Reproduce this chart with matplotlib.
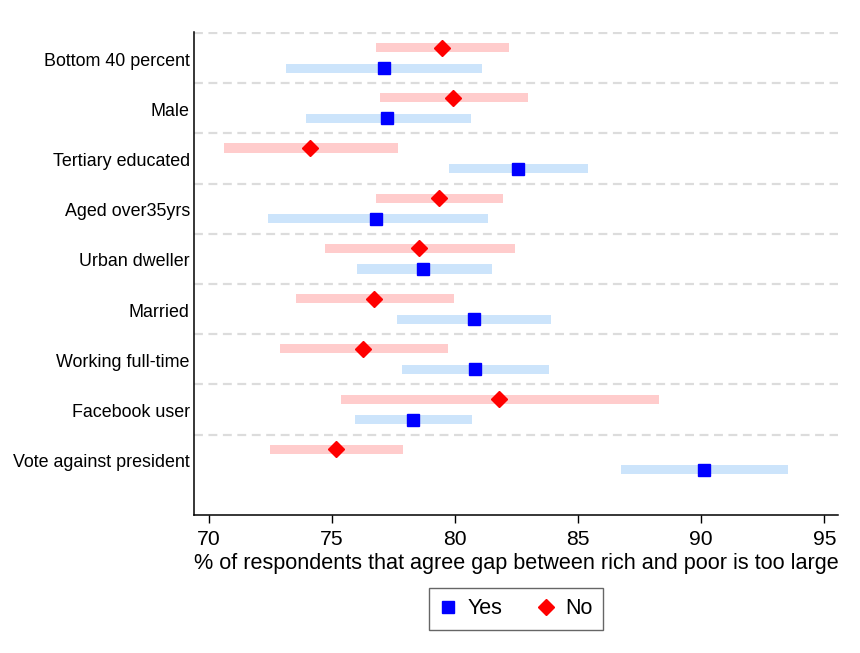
import numpy as np
import matplotlib.pyplot as plt
from matplotlib.lines import Line2D

plt.rcParams["font.family"] = ["Liberation Sans", "DejaVu Sans"]

# Share agreeing the rich-poor gap is too large, by group (point estimate and 95% CI)
groups = [
    "Bottom 40 percent",
    "Male",
    "Tertiary educated",
    "Aged over35yrs",
    "Urban dweller",
    "Married",
    "Working full-time",
    "Facebook user",
    "Vote against president",
]
yes_mean = [77.1, 77.25, 82.55, 76.8, 78.7, 80.75, 80.8, 78.3, 90.1]
yes_lo = [73.15, 73.95, 79.75, 72.4, 76.0, 77.65, 77.85, 75.95, 86.75]
yes_hi = [81.1, 80.65, 85.4, 81.35, 81.5, 83.9, 83.8, 80.7, 93.5]
no_mean = [79.45, 79.9, 74.1, 79.35, 78.55, 76.7, 76.25, 81.8, 75.15]
no_lo = [76.8, 76.95, 70.6, 76.8, 74.7, 73.55, 72.9, 75.35, 72.5]
no_hi = [82.2, 82.95, 77.7, 81.95, 82.45, 79.95, 79.7, 88.3, 77.9]

x_ticks = [70, 75, 80, 85, 90, 95]

fig = plt.figure(figsize=(8.6, 6.53), dpi=100)
ax = fig.add_axes([0.2256, 0.2113, 0.7488, 0.7397])

pos = np.arange(len(groups))
y_no = pos + 0.29
y_yes = pos + 0.70

# dashed separators between groups
for b in pos:
    ax.axhline(b, color="#dcdcdc", lw=1.6, ls=(0, (4, 2.5)), zorder=0)

ax.barh(y_no, np.subtract(no_hi, no_lo), left=no_lo, height=0.18,
        color="#ffcccc", zorder=1)
ax.barh(y_yes, np.subtract(yes_hi, yes_lo), left=yes_lo, height=0.18,
        color="#cce4fb", zorder=1)
ax.plot(no_mean, y_no, ls="none", marker="D", ms=8.2, color="#ff0000", zorder=3)
ax.plot(yes_mean, y_yes, ls="none", marker="s", ms=8.8, color="#0000ff", zorder=3)

ax.set_xlim(69.4, 95.55)
ax.set_ylim(9.6, -0.02)
ax.set_xticks(x_ticks)
ax.set_yticks(pos + 0.52)
ax.set_yticklabels(groups, fontsize=12.9)
ax.tick_params(axis="y", length=0, pad=3)
ax.tick_params(axis="x", length=6, width=1, labelsize=15.2, pad=5)
ax.spines["top"].set_visible(False)
ax.spines["right"].set_visible(False)
ax.spines["left"].set_linewidth(1.1)
ax.spines["bottom"].set_linewidth(1.1)
ax.set_xlabel("% of respondents that agree gap between rich and poor is too large",
              fontsize=15.6, labelpad=3)

handles = [
    Line2D([], [], ls="none", marker="s", ms=8.8, color="#0000ff"),
    Line2D([], [], ls="none", marker="D", ms=8.2, color="#ff0000"),
]
leg = fig.legend(handles, ["Yes", "No"], loc="center", ncol=2,
                 bbox_to_anchor=(0.6, 0.0674), fontsize=15.5, frameon=True,
                 fancybox=False, edgecolor="#404040", handlelength=0.8,
                 handletextpad=0.5, columnspacing=1.6, borderpad=0.5,
                 borderaxespad=0)
leg.get_frame().set_linewidth(1.0)

fig.savefig("out.png", dpi=100, facecolor="white")
